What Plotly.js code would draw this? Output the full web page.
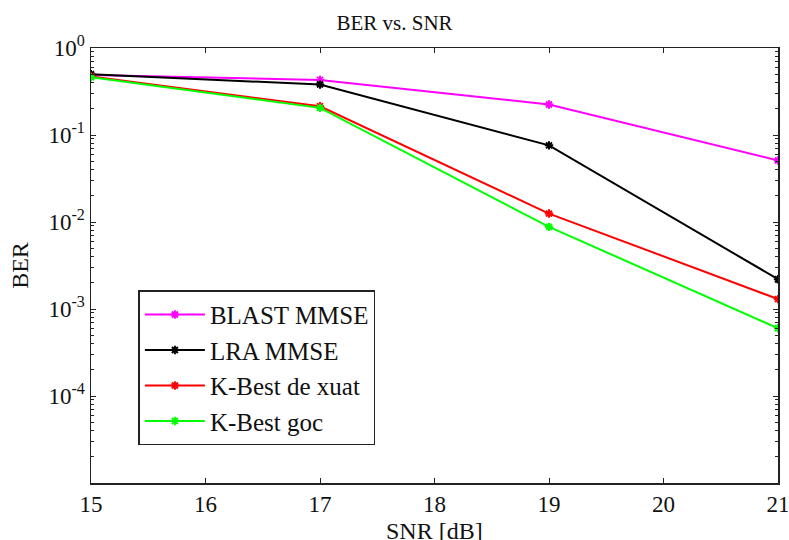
<!DOCTYPE html>
<html><head><meta charset="utf-8">
<script src="https://cdn.plot.ly/plotly-3.0.1.min.js"></script>
<style>html,body{margin:0;padding:0;background:#fff}</style>
</head><body><div id="chart" style="width:789px;height:540px"></div>
<script>
const snr = [15, 17, 19, 21];
const blastMMSE = [0.49, 0.43, 0.224, 0.051];
const lraMMSE = [0.50, 0.38, 0.076, 0.0022];
const kbestDeXuat = [0.47, 0.214, 0.0125, 0.0013];
const kbestGoc = [0.46, 0.205, 0.0088, 0.0006];
const seriesNames = ['BLAST MMSE', 'LRA MMSE', 'K-Best de xuat', 'K-Best goc'];
const seriesColors = ['#ff00ff', '#000000', '#ff0000', '#00ff00'];
const xTicks = [15, 16, 17, 18, 19, 20, 21];
const yTickVals = [1, 0.1, 0.01, 0.001, 0.0001];
const yTickText = ['10<sup>0</sup>', '10<sup>-1</sup>', '10<sup>-2</sup>', '10<sup>-3</sup>', '10<sup>-4</sup>'];

const minorVals = [];
for (let e = -5; e < 0; e++) for (let m = 2; m <= 9; m++) minorVals.push(m * Math.pow(10, e));

const data = [blastMMSE, lraMMSE, kbestDeXuat, kbestGoc].map((ys, i) => ({
  x: snr, y: ys, name: seriesNames[i], type: 'scatter', mode: 'lines+markers',
  line: {color: seriesColors[i], width: 2},
  marker: {symbol: 'asterisk-open', size: 7, color: seriesColors[i], line: {color: seriesColors[i], width: 2}}
}));

const FAM = 'Liberation Serif, Times New Roman, DejaVu Serif, serif';
const f = (s) => ({family: FAM, size: s, color: '#111'});
const layout = {
  width: 789, height: 540,
  margin: {l: 91, r: 11, t: 48, b: 57},
  paper_bgcolor: '#fff', plot_bgcolor: '#fff',
  font: f(23),
  title: {text: 'BER vs. SNR', font: f(21), x: 0.5, xanchor: 'center', y: 0.958, yanchor: 'middle'},
  xaxis: {
    range: [15, 21], tickvals: xTicks, ticks: 'inside', ticklen: 5, tickcolor: '#222', tickwidth: 1,
    showline: true, linecolor: '#222', linewidth: 1.5, mirror: 'ticks', showgrid: false, zeroline: false,
    tickfont: f(23), ticklabeloverflow: 'allow'
  },
  yaxis: {
    type: 'log', range: [-5, 0], tickvals: yTickVals, ticktext: yTickText,
    ticks: 'inside', ticklen: 5, tickcolor: '#222', tickwidth: 1,
    minor: {tickmode: 'array', tickvals: minorVals, ticks: 'inside', ticklen: 3, tickcolor: '#222', tickwidth: 1, showgrid: false},
    showline: true, linecolor: '#222', linewidth: 1.5, mirror: 'ticks', showgrid: false, zeroline: false,
    tickfont: f(23),
    title: {text: 'BER', font: f(24), standoff: 13}
  },
  annotations: [{
    text: 'SNR [dB]', xref: 'paper', yref: 'paper', x: 0.5, y: 0, xanchor: 'center', yanchor: 'top',
    yshift: -33, showarrow: false, font: f(24)
  }],
  showlegend: true,
  legend: {
    x: 0.069, y: 0.265, xanchor: 'left', yanchor: 'middle',
    bgcolor: '#fff', bordercolor: '#222', borderwidth: 1.5,
    font: f(25), tracegroupgap: 0, itemwidth: 60
  }
};
Plotly.newPlot('chart', data, layout, {displayModeBar: false, staticPlot: true});
</script></body></html>
